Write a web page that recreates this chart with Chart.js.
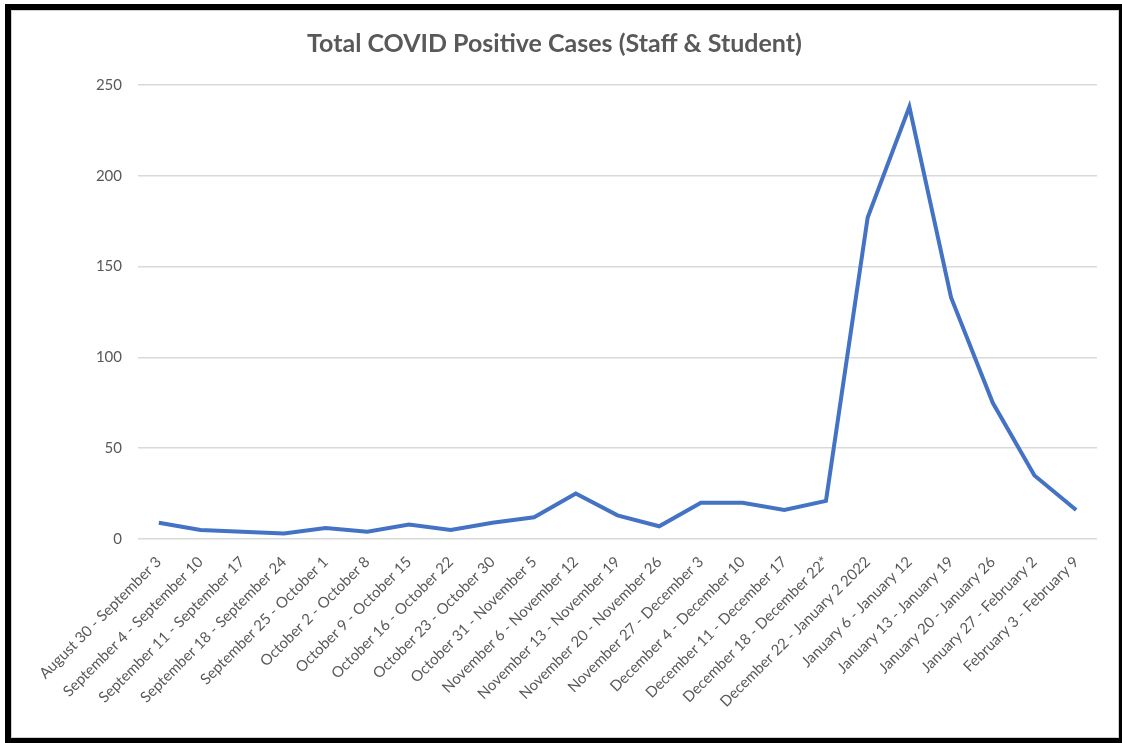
<!DOCTYPE html>
<html>
<head>
<meta charset="utf-8">
<script src="https://cdn.jsdelivr.net/npm/chart.js@4"></script>
<style>
  html, body { margin: 0; padding: 0; background: #fff; overflow: hidden; }
  #frame {
    position: absolute; left: 5px; top: 4px;
    width: 1108px; height: 728px;
    border: 6px solid #000; background: #fff;
  }
  #inner {
    width: 1106px; height: 726px;
    border: 1px solid #d0d0d0;
  }
  canvas { display: block; }
</style>
</head>
<body>
<div id="frame"><div id="inner"><canvas id="casesChart" width="1106" height="726"></canvas></div></div>
<script>
const weeks = [
    "August 30 - September 3", "September 4 - September 10", "September 11 - September 17",
    "September 18 - September 24", "September 25 - October 1", "October 2 - October 8",
    "October 9 - October 15", "October 16 - October 22", "October 23 - October 30",
    "October 31 - November 5", "November 6 - November 12", "November 13 - November 19",
    "November 20 - November 26", "November 27 - December 3", "December 4 - December 10",
    "December 11 - December 17", "December 18 - December 22*", "December 22 - January 2 2022",
    "January 6 - January 12", "January 13 - January 19", "January 20 - January 26",
    "January 27 - February 2", "February 3 - February 9"
];
const positiveCases = [9, 5, 4, 3, 6, 4, 8, 5, 9, 12, 25, 13, 7, 20, 20, 16, 21, 177, 238, 133, 75, 35, 16];
const yTicks = [0, 50, 100, 150, 200, 250];

const ctx = document.getElementById("casesChart");

new Chart(ctx, {
    type: "line",
    data: {
        labels: weeks,
        datasets: [{
            label: "Total COVID Positive Cases",
            data: positiveCases,
            borderColor: "#4472C4",
            borderWidth: 4,
            pointRadius: 0,
            tension: 0,
            fill: false
        }]
    },
    options: {
        responsive: false,
        animation: false,
        layout: { padding: { left: 0, right: 21, top: 0, bottom: 0 } },
        plugins: {
            legend: { display: false },
            tooltip: { enabled: false },
            title: {
                display: true,
                text: "Total COVID Positive Cases (Staff & Student)",
                color: "#595959",
                font: { family: "Lato", size: 25, weight: "bold" },
                padding: { top: 18, bottom: 26 }
            }
        },
        scales: {
            x: {
                offset: true,
                grid: { display: false },
                border: { display: false },
                ticks: {
                    color: "#595959",
                    font: { family: "Lato", size: 15 },
                    minRotation: 45,
                    maxRotation: 45,
                    autoSkip: false,
                    padding: 6
                },
                afterFit: (s) => { s.height = 198; }
            },
            y: {
                min: 0,
                max: 250,
                afterBuildTicks: (s) => { s.ticks = yTicks.map(v => ({ value: v })); },
                grid: { color: "#d9d9d9", lineWidth: 1.5, drawTicks: false },
                border: { display: false },
                ticks: {
                    color: "#595959",
                    font: { family: "Lato", size: 15 },
                    padding: 16
                },
                afterFit: (s) => { s.width = 126; }
            }
        }
    }
});
</script>
</body>
</html>
